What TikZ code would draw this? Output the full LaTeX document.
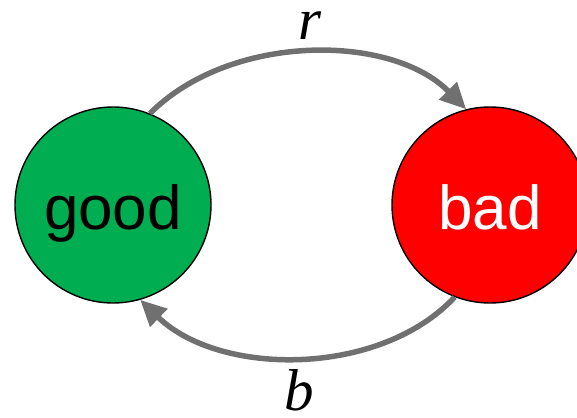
\documentclass[tikz,border=0pt]{standalone}
\usepackage{fontspec}
\setmainfont{Liberation Serif}
\newfontfamily\arialfont{Liberation Sans}
\usetikzlibrary{arrows.meta}
\definecolor{goodgreen}{RGB}{0,173,80}
\definecolor{badred}{RGB}{255,0,0}
\definecolor{arrowgray}{RGB}{112,112,112}
\tikzset{
  state/.style={circle, draw=black, line width=1.4pt, minimum size=196pt, inner sep=0pt,
    font=\arialfont\fontsize{62}{62}\selectfont, text height=48pt, text depth=0pt},
  trans/.style={draw=arrowgray, line width=5.5pt, -{Triangle[length=26pt,width=24pt]}},
  lab/.style={font=\itshape\fontsize{59}{59}\selectfont, anchor=base, inner sep=0pt}
}
\begin{document}
\begin{tikzpicture}[x=1pt,y=-1pt]
\useasboundingbox (0,0) rectangle (577,417);
\node[state, fill=goodgreen, text=black] (good) at (113,205) {good};
\node[state, fill=badred, text=white] (bad) at (490,205) {bad};
\draw[trans] (good.68) .. controls (230,33) and (391,33) .. (bad.104)
  node[lab, pos=0.5, yshift=13pt] (r) {r};
\draw[trans] (bad.249) .. controls (380,377) and (220,377) .. (good.286)
  node[lab, pos=0.5, yshift=-53pt] (b) {b};
\end{tikzpicture}
\end{document}
